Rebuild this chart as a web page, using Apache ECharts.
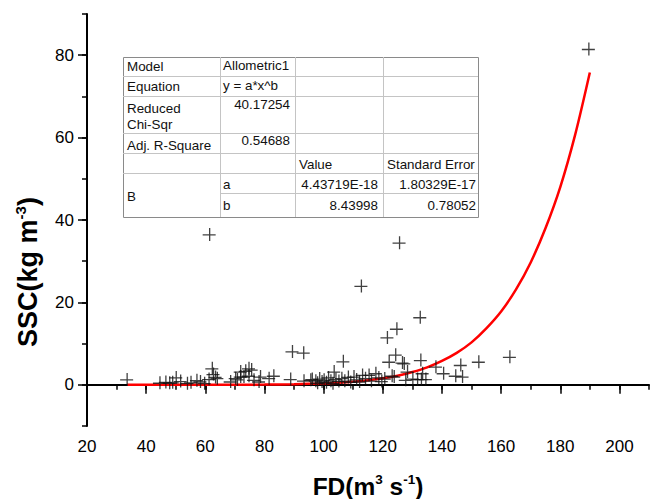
<!DOCTYPE html>
<html>
	<head>
		<meta charset="utf-8">
		<title>SSC vs FD</title>
		<script type="text/javascript" src="https://cdn.jsdelivr.net/npm/echarts@6/dist/echarts.min.js"></script>
		<style>
			html, body { margin: 0; padding: 0; background: #fff; }
			#chart { width: 650px; height: 499px; }
		</style>
	</head>
	<body>
		<div id="chart"></div>
		<script type="text/javascript">
			// observed points (FD, SSC)
			var fdObs = [33.4, 44.5, 46.5, 47.8, 48.8, 50.0, 51.5, 53.8, 55.0, 57.0, 58.2, 59.6,
				61.1, 61.3, 62.2, 62.6, 63.3, 63.9, 68.4, 70.1, 70.7, 71.8, 71.8, 72.9, 73.5, 74.6,
				74.6, 75.5, 76.3, 78.0, 78.5, 81.4, 83.0, 88.7, 89.3, 93.1, 93.2, 95.5, 96.0, 97.2,
				97.8, 98.5, 99.3, 100.0, 100.8, 101.5, 102.3, 103.0, 103.4, 104.0, 105.0, 106.0, 106.5,
				107.0, 108.2, 109.0, 110.1, 111.0, 112.0, 112.6, 113.0, 114.0, 115.2, 116.0, 117.5,
				118.5, 119.5, 120.5, 121.4, 122.0, 123.0, 123.7, 124.2, 124.6, 125.5, 126.5, 127.1,
				127.6, 128.2, 130.0, 131.6, 132.5, 132.7, 132.9, 133.3, 134.4, 137.8, 140.4, 144.5,
				146.2, 146.8, 152.3, 162.8, 189.5];
			var sscObs = [1.3, 0.5, 0.7, 0.5, 0.6, 1.8, 0.9, 0.4, 0.6, 1.1, 0.8, 0.4,
				1.4, 36.5, 4.0, 2.6, 1.9, 1.6, 0.8, 1.6, 1.3, 2.0, 3.2, 2.0, 3.4, 4.0,
				2.2, 3.7, 1.2, 0.8, 2.0, 1.6, 2.2, 1.4, 8.1, 7.8, 1.0, 1.2, 1.4, 1.0,
				0.5, 1.5, 0.8, 1.2, 0.6, 1.8, 1.0, 0.4, 3.2, 1.4, 0.9, 1.6, 5.7,
				1.0, 1.9, 0.7, 2.0, 1.3, 0.8, 24.0, 2.4, 1.6, 2.4, 1.0, 2.8,
				1.8, 0.9, 1.5, 11.5, 5.6, 2.2, 2.0, 7.3, 13.6, 34.5, 5.4, 5.2,
				1.2, 3.2, 1.5, 1.4, 16.4, 6.0, 1.4, 2.8, 1.4, 4.4, 2.8, 2.2,
				4.8, 2.0, 5.6, 6.8, 81.5];

			// fitted curve
			var fitFD = [33.6, 50, 60, 70, 80, 90, 100, 105, 110, 115, 120, 125, 130, 135, 140, 145,
				150, 155, 160, 165, 170, 175, 180, 185, 190];
			var fitSSC = [0, 0, 0, 0.02, 0.05, 0.14, 0.34, 0.51, 0.75, 1.09, 1.57, 2.21, 3.1, 4.24, 5.8, 7.75,
				10.3, 13.7, 17.8, 23.1, 29.7, 38.0, 48.0, 60.6, 75.8];

			// axis ticks
			var xTickValues = [20, 40, 60, 80, 100, 120, 140, 160, 180, 200];
			var yTickValues = [0, 20, 40, 60, 80];

			// fit report table
			var statNames = ['Model', 'Equation', 'Reduced\nChi-Sqr', 'Adj. R-Square'];
			var statValues = ['Allometric1', 'y = a*x^b', '40.17254', '0.54688'];
			var paramNames = ['a', 'b'];
			var paramValues = ['4.43719E-18', '8.43998'];
			var paramErrors = ['1.80329E-17', '0.78052'];

			var FONT = '"Liberation Sans", Arial, sans-serif';

			function buildTable() {
				// column / row edges in pixels
				var cx = [123, 220, 295, 383, 478];
				var ry = [57, 76, 96, 133, 153, 173, 193, 217];
				var els = [];
				var inner = { stroke: '#c4c4c4', lineWidth: 1 };
				els.push({
					type: 'rect', z: 100,
					shape: { x: cx[0] + 0.5, y: ry[0] + 0.5, width: cx[4] - cx[0], height: ry[7] - ry[0] },
					style: { fill: '#fff', stroke: '#8a8a8a', lineWidth: 1 }
				});
				var i;
				for (i = 1; i < 7; i++) {
					var x1 = i === 6 ? cx[1] : cx[0];
					els.push({ type: 'line', z: 101, shape: { x1: x1, y1: ry[i] + 0.5, x2: cx[4], y2: ry[i] + 0.5 }, style: inner });
				}
				for (i = 1; i < 4; i++) {
					els.push({ type: 'line', z: 101, shape: { x1: cx[i] + 0.5, y1: ry[0], x2: cx[i] + 0.5, y2: ry[7] }, style: inner });
				}
				function txt(s, x, y, align) {
					els.push({
						type: 'text', z: 102, x: x, y: y,
						style: { text: s, fill: '#111', font: '13.4px ' + FONT, align: align || 'left', verticalAlign: 'middle', lineHeight: 16 }
					});
				}
				// stats
				txt(statNames[0], 127, 66);
				txt(statNames[1], 127, 86);
				txt(statNames[2], 127, 116);
				txt(statNames[3], 127, 145);
				txt(statValues[0], 223, 65);
				txt(statValues[1], 223, 85);
				txt(statValues[2], 290, 104, 'right');
				txt(statValues[3], 290, 140, 'right');
				// parameters
				txt('Value', 299, 164);
				txt('Standard Error', 387, 164);
				txt('B', 127, 196);
				for (i = 0; i < paramNames.length; i++) {
					var yy = i === 0 ? 184 : 205;
					txt(paramNames[i], 223, yy);
					txt(paramValues[i], 378, yy, 'right');
					txt(paramErrors[i], 476, yy, 'right');
				}
				return els;
			}

			function doScatterChart() {
				var myChart = echarts.init(document.getElementById('chart'), null, { renderer: 'svg' });

				var points = [];
				for (var i = 0; i < fdObs.length; i++) points.push([fdObs[i], sscObs[i]]);
				var fitLine = [];
				for (var j = 0; j < fitFD.length; j++) fitLine.push([fitFD[j], fitSSC[j]]);

				var gridBox = { left: 87, right: 1, top: 14, bottom: 73, containLabel: false, outerBoundsMode: 'none' };
				var axisLine = { show: true, lineStyle: { color: '#000', width: 2 } };

				var titleStyle = {
					fontFamily: FONT, fontWeight: 'bold', fontSize: 24.5, color: '#000', lineHeight: 28,
					rich: {
						sup: { fontFamily: FONT, fontWeight: 'bold', fontSize: 13.5, verticalAlign: 'top', lineHeight: 28, color: '#000' }
					}
				};

				var option = {
					backgroundColor: '#fff',
					animation: false,
					grid: [
						Object.assign({}, gridBox),
						Object.assign({}, gridBox)
					],
					xAxis: [{
						// minor ticks every 10
						gridIndex: 0, type: 'value', min: 20, max: 210, interval: 10,
						axisLine: axisLine,
						axisTick: { show: true, inside: false, length: 5, lineStyle: { color: '#000', width: 1.5 } },
						axisLabel: { show: false },
						splitLine: { show: false },
						name: 'FD(m{sup|3} s{sup|-1})',
						nameLocation: 'middle',
						nameGap: 46,
						nameTextStyle: titleStyle
					}, {
						// major ticks and labels
						gridIndex: 1, type: 'value', min: 20, max: 210,
						axisLine: { show: false },
						axisTick: { show: true, length: 9, customValues: xTickValues, lineStyle: { color: '#000', width: 1.5 } },
						axisLabel: { customValues: xTickValues, fontFamily: FONT, fontSize: 17, color: '#000', margin: 12 },
						splitLine: { show: false }
					}],
					yAxis: [{
						gridIndex: 0, type: 'value', min: -10, max: 90, interval: 10,
						axisLine: axisLine,
						axisTick: { show: true, inside: false, length: 5, lineStyle: { color: '#000', width: 1.5 } },
						axisLabel: { show: false },
						splitLine: { show: false }
					}, {
						gridIndex: 1, type: 'value', min: -10, max: 90,
						axisLine: { show: false },
						axisTick: { show: true, length: 9, customValues: yTickValues, lineStyle: { color: '#000', width: 1.5 } },
						axisLabel: { customValues: yTickValues, fontFamily: FONT, fontSize: 17, color: '#000', margin: 13 },
						splitLine: { show: false }
					}],
					graphic: {
						elements: [{
							type: 'text', x: 28, y: 272, rotation: Math.PI / 2,
							style: {
								text: 'SSC(kg m{sup|-3})',
								font: 'bold 27px ' + FONT, fill: '#000', align: 'center', verticalAlign: 'middle',
								lineHeight: 30,
								rich: { sup: { font: 'bold 15px ' + FONT, verticalAlign: 'top', lineHeight: 30, fill: '#000' } }
							}
						}].concat(buildTable())
					},
					series: [{
						name: 'SSC',
						type: 'scatter',
						xAxisIndex: 0, yAxisIndex: 0,
						symbol: 'path://M0,6.35H13V7.65H0Z M6.35,0H7.65V13H6.35Z',
						symbolSize: 13,
						itemStyle: { color: '#111' },
						data: points,
						z: 3
					}, {
						name: 'Allometric1',
						type: 'line',
						xAxisIndex: 0, yAxisIndex: 0,
						smooth: 0.3,
						symbol: 'none',
						lineStyle: { color: '#ff0000', width: 2.5 },
						data: fitLine,
						z: 2
					}]
				};
				myChart.setOption(option);
			}

			doScatterChart();
		</script>
	</body>
</html>
